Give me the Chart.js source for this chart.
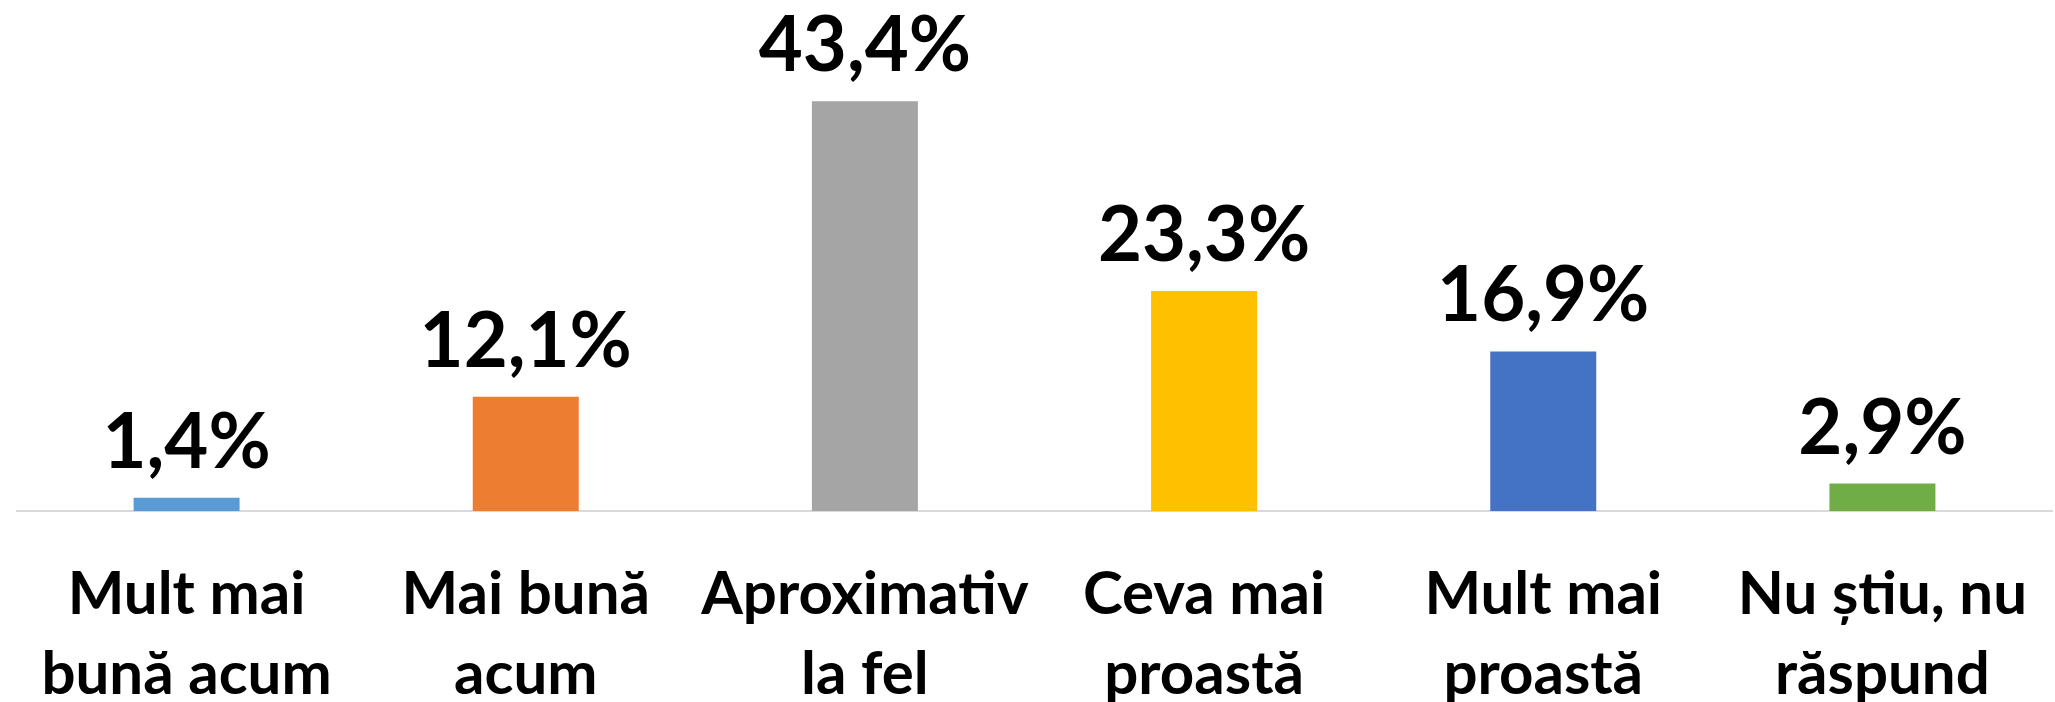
<!DOCTYPE html>
<html>
<head>
<meta charset="utf-8">
<script src="https://cdn.jsdelivr.net/npm/chart.js@4.4.1/dist/chart.umd.min.js"></script>
<style>
    html, body { margin: 0; padding: 0; background: #fff; }
    #wrap { width: 2055px; height: 702px; position: relative; }
</style>
</head>
<body>
<div id="wrap"><canvas id="surveyChart"></canvas></div>
<script>
// --- Data ---
const categories = [
    ['Mult mai', 'bună acum'],
    ['Mai bună', 'acum'],
    ['Aproximativ', 'la fel'],
    ['Ceva mai', 'proastă'],
    ['Mult mai', 'proastă'],
    ['Nu știu, nu', 'răspund']
];
const values = [1.4, 12.1, 43.4, 23.3, 16.9, 2.9];
const barColors = ['#5B9BD5', '#ED7D31', '#A5A5A5', '#FFC000', '#4472C4', '#70AD47'];

const FONT = "Lato, 'Open Sans', sans-serif";

// --- Value labels above bars ---
const valueLabels = {
    id: 'valueLabels',
    afterDatasetsDraw(chart) {
        const ctx = chart.ctx;
        const meta = chart.getDatasetMeta(0);
        ctx.save();
        ctx.font = `bold 76px ${FONT}`;
        ctx.fillStyle = '#000';
        ctx.textAlign = 'center';
        ctx.textBaseline = 'alphabetic';
        meta.data.forEach((bar, i) => {
            const txt = values[i].toFixed(1).replace('.', ',') + '%';
            ctx.fillText(txt, bar.x, bar.y - 30);
        });
        ctx.restore();
    }
};

const ctx = document.getElementById('surveyChart').getContext('2d');
const surveyChart = new Chart(ctx, {
    type: 'bar',
    data: {
        labels: categories,
        datasets: [{
            data: values,
            backgroundColor: barColors,
            borderWidth: 0,
            barPercentage: 0.3125,
            categoryPercentage: 1
        }]
    },
    options: {
        responsive: true,
        maintainAspectRatio: false,
        animation: false,
        layout: { padding: { top: 39, left: 17, right: 3, bottom: 0 } },
        scales: {
            x: {
                // invisible tick marks push the labels down without widening side padding
                grid: { display: true, drawOnChartArea: false, drawTicks: true, tickLength: 44, color: 'rgba(0,0,0,0)' },
                border: { display: true, color: '#D9D9D9', width: 2 },
                ticks: {
                    color: '#000',
                    font: { family: FONT, size: 60, weight: 'bold', lineHeight: 1.33 },
                    padding: 0,
                    maxRotation: 0,
                    autoSkip: false
                },
                afterFit: (scale) => { scale.height = 191; }
            },
            y: {
                display: false,
                min: 0,
                max: 50
            }
        },
        plugins: {
            legend: { display: false },
            tooltip: { enabled: false }
        }
    },
    plugins: [valueLabels]
});
</script>
</body>
</html>
